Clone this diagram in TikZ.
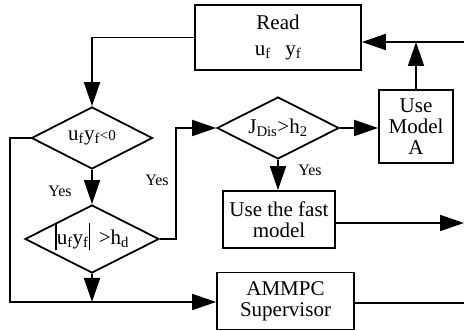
\documentclass[tikz,border=0pt]{standalone}
\usepackage{fontspec}
\setmainfont{Liberation Serif}
\usetikzlibrary{shapes,arrows.meta,positioning,calc}

\begin{document}
\begin{tikzpicture}[
    x=1pt, y=-1pt,
    box/.style={rectangle, draw=black, line width=1.8pt, align=center, inner sep=0pt, font=\fontsize{21}{21}\selectfont},
    test/.style={diamond, draw=black, line width=1.8pt, aspect=2, inner sep=0pt, font=\fontsize{21}{21}\selectfont},
    arrow/.style={-{Triangle[length=24pt,width=16pt]}, line width=1.8pt},
    line/.style={line width=1.8pt},
    lbl/.style={inner sep=0pt, font=\fontsize{16}{16}\selectfont}
]
    \useasboundingbox (0,0) rectangle (464,331);
    \node [box, minimum width=166pt, minimum height=65pt] (read) at (278,37.5) {Read\\[5pt]u\textsubscript{f}\hspace{0.7em}y\textsubscript{f}};
    \node [test, minimum width=121pt, minimum height=62pt] (sign) at (92,138) {u\textsubscript{f}y\textsubscript{f}{\fontsize{15}{15}\selectfont<0}};
    \node [test, minimum width=134pt, minimum height=68pt] (mag) at (92,239) {\smash{\rule[-6pt]{1.8pt}{27pt}}u\textsubscript{f}y\textsubscript{f}\smash{\rule[-6pt]{1.8pt}{27pt}}\hspace{0.4em}>h\textsubscript{d}};
    \node [test, minimum width=122pt, minimum height=62pt] (dis) at (278,128) {J\textsubscript{Dis}>h\textsubscript{2}};
    \node [box, minimum width=74pt, minimum height=73pt] (modela) at (416,126.5) {Use\\Model\\A};
    \node [box, minimum width=112pt, minimum height=57pt] (fast) at (279,219.5) {Use the fast\\model};
    \node [box, minimum width=137pt, minimum height=57pt] (ammpc) at (285.5,301) {AMMPC\\Supervisor};
    \node [lbl] (yes1) at (60,191) {Yes};
    \node [lbl] (yes2) at (157,180) {Yes};
    \node [lbl] (yes3) at (310,170) {Yes};

    \coordinate (bottom) at (10,302);
    \coordinate (feedback) at (464,42);
    \coordinate (fastout) at (464,223);
    \coordinate (ammpcout) at (464,303);

    \draw [arrow] (read.west) -| (sign.north);
    \draw [arrow] (sign.south) -- (mag.north);
    \draw [arrow] (sign.west) -| (bottom) -- (ammpc.west |- bottom);
    \draw [arrow] (mag.south) -- (mag.south |- bottom);
    \draw [arrow] (mag.east) -- ++(16,0) |- (dis.west);
    \draw [arrow] (dis.east) -- (modela.west |- dis.east);
    \draw [arrow] (dis.south) -- (fast.north -| dis.south);
    \draw [arrow] (feedback) -- (read.east |- feedback);
    \draw [arrow] (modela.north) -- (modela.north |- feedback);
    \draw [arrow] (fast.east |- fastout) -- (fastout);
    \draw [line] (ammpc.east |- ammpcout) -- (ammpcout);
\end{tikzpicture}
\end{document}
